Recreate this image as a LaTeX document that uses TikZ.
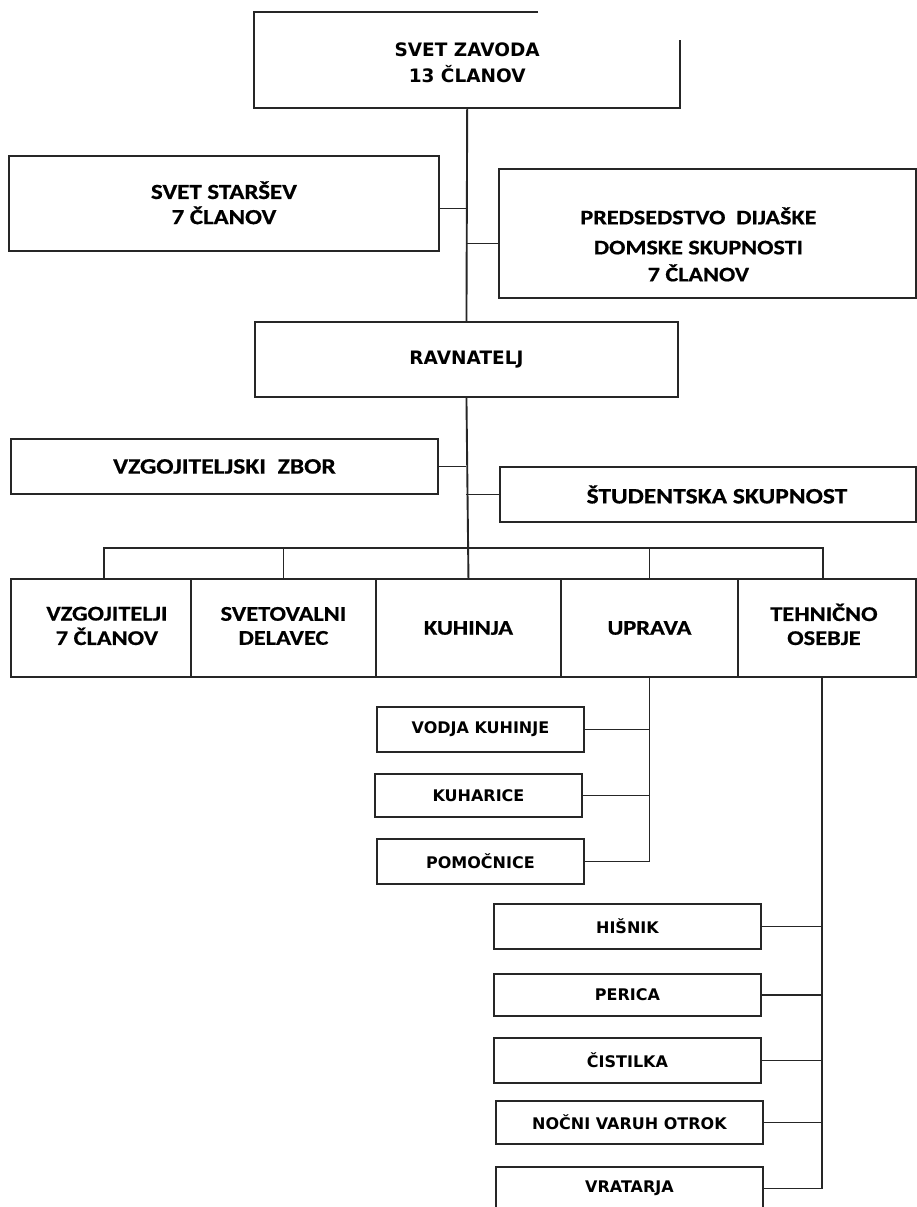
\documentclass[tikz,border=0pt]{standalone}
\usepackage{fontspec}
\newfontfamily\cfont{Carlito Bold}[FakeStretch=1.16, FakeBold=0.6]
\newfontfamily\vfont{DejaVu Sans Bold}
\usetikzlibrary{calc}
\newcommand{\ml}[1]{\begin{tabular}{@{}c@{}}#1\end{tabular}}
% add #1 to the reported height: the text then sits #1/2 lower in its box
\newcommand{\pushdown}[2]{\raisebox{0pt}[\dimexpr\height+#1\relax][\depth]{#2}}
\tikzset{
  box/.style={draw=black!85, line width=1.9pt, anchor=north west, inner sep=0pt},
  ctext/.style={font=\cfont\fontsize{22}{24}\selectfont},
  rtext/.style={font=\cfont\fontsize{21}{24}\selectfont},
  vtext/.style={font=\vfont\fontsize{16}{19}\selectfont},
  link/.style={draw=black!85, line width=1.9pt},
}
\begin{document}
\begin{tikzpicture}[x=1pt,y=-1pt]
\useasboundingbox (0,0) rectangle (917,1207);
\clip (0,0) rectangle (917,1207);
% top
\node[anchor=north west, inner sep=0pt, minimum width=426pt, minimum height=96pt,
      font=\vfont\fontsize{18.5}{26}\selectfont] (sz) at (254,12) {\pushdown{9pt}{\ml{SVET ZAVODA\\13 ČLANOV}}};
\draw[link] ($(sz.north west)+(284,0)$) -- (sz.north west) -- (sz.south west) -- (sz.south east) -- ($(sz.south east)+(0,-68)$);
\node[box, minimum width=430pt, minimum height=95pt, font=\cfont\fontsize{21.5}{25}\selectfont] (ss) at (8,155) {\pushdown{6pt}{\ml{SVET STARŠEV\\7 ČLANOV}}};
\node[box, minimum width=417pt, minimum height=129pt, font=\cfont\fontsize{20.8}{27}\selectfont] (pd) at (498,168) {\pushdown{28pt}{\ml{PREDSEDSTVO\ \ DIJAŠKE\\[3pt] DOMSKE SKUPNOSTI\\7 ČLANOV}}\kern18pt};
\node[box, minimum width=423pt, minimum height=75pt, font=\vfont\fontsize{18.5}{22}\selectfont] (rav) at (254,321) {RAVNATELJ};
\node[box, minimum width=427pt, minimum height=55pt, ctext] (vz) at (10,438) {VZGOJITELJSKI\ \ ZBOR};
\node[box, minimum width=416pt, minimum height=55pt, ctext] (st) at (499,466) {\kern18pt ŠTUDENTSKA SKUPNOST};
% row
\node[box, minimum width=180pt, minimum height=98pt, rtext] (vg) at (10,578) {\kern12pt\ml{VZGOJITELJI\\7 ČLANOV}};
\node[box, minimum width=185pt, minimum height=98pt, rtext] (sv) at (190,578) {\ml{SVETOVALNI\\DELAVEC}};
\node[box, minimum width=185pt, minimum height=98pt, rtext] (kuh) at (375,578) {KUHINJA};
\node[box, minimum width=177pt, minimum height=98pt, rtext] (up) at (560,578) {UPRAVA};
\node[box, minimum width=178pt, minimum height=98pt, rtext] (th) at (737,578) {\ml{TEHNIČNO\\OSEBJE}\kern6pt};
% uprava sub
\node[box, minimum width=207pt, minimum height=45pt, vtext] (vk) at (376,706) {VODJA KUHINJE};
\node[box, minimum width=207pt, minimum height=43pt, vtext] (kh) at (374,773) {KUHARICE};
\node[box, minimum width=207pt, minimum height=45pt, vtext] (pm) at (376,838) {POMOČNICE};
% tehnicno sub
\node[box, minimum width=267pt, minimum height=45pt, vtext] (hs) at (493,903) {HIŠNIK};
\node[box, minimum width=267pt, minimum height=42pt, vtext] (pe) at (493,973) {PERICA};
\node[box, minimum width=267pt, minimum height=45pt, vtext] (ci) at (493,1037) {ČISTILKA};
\node[box, minimum width=267pt, minimum height=43pt, vtext] (nv) at (495,1100) {NOČNI VARUH OTROK};
\node[box, minimum width=267pt, minimum height=43pt, vtext] (vr) at (495,1166) {VRATARJA};
% connectors
\draw[link] (sz.south) -- (rav.north);
\coordinate (ssj) at ($(ss.east)+(0,5)$);
\draw[link] (ssj) -- (ssj -| sz.south);
\coordinate (pdj) at ($(pd.west)+(0,10)$);
\draw[link] (pdj) -- (pdj -| sz.south);
\draw[link] (rav.south) -- (kuh.north);
\draw[link] (vz.east) -- (vz.east -| rav.south);
\draw[link] (st.west) -- (st.west -| rav.south);
\coordinate (bus) at (467,548);
\coordinate (vgn) at ($(vg.north)+(3,0)$);
\coordinate (thn) at ($(th.north)+(-4,0)$);
\coordinate (ths) at ($(th.south)+(-5,0)$);
\draw[link] (vgn) -- (vgn |- bus) -- (thn |- bus) -- (thn);
\draw[link] (sv.north) -- (sv.north |- bus);
\draw[link] (up.north) -- (up.north |- bus);
\draw[link] (up.south) -- (up.south |- pm.east) -- (pm.east);
\draw[link] (vk.east) -- (vk.east -| up.south);
\draw[link] (kh.east) -- (kh.east -| up.south);
\draw[link] (ths) -- (ths |- vr.east) -- (vr.east);
\draw[link] (hs.east) -- (hs.east -| ths);
\draw[link] (pe.east) -- (pe.east -| ths);
\draw[link] (ci.east) -- (ci.east -| ths);
\draw[link] (nv.east) -- (nv.east -| ths);
\end{tikzpicture}
\end{document}
